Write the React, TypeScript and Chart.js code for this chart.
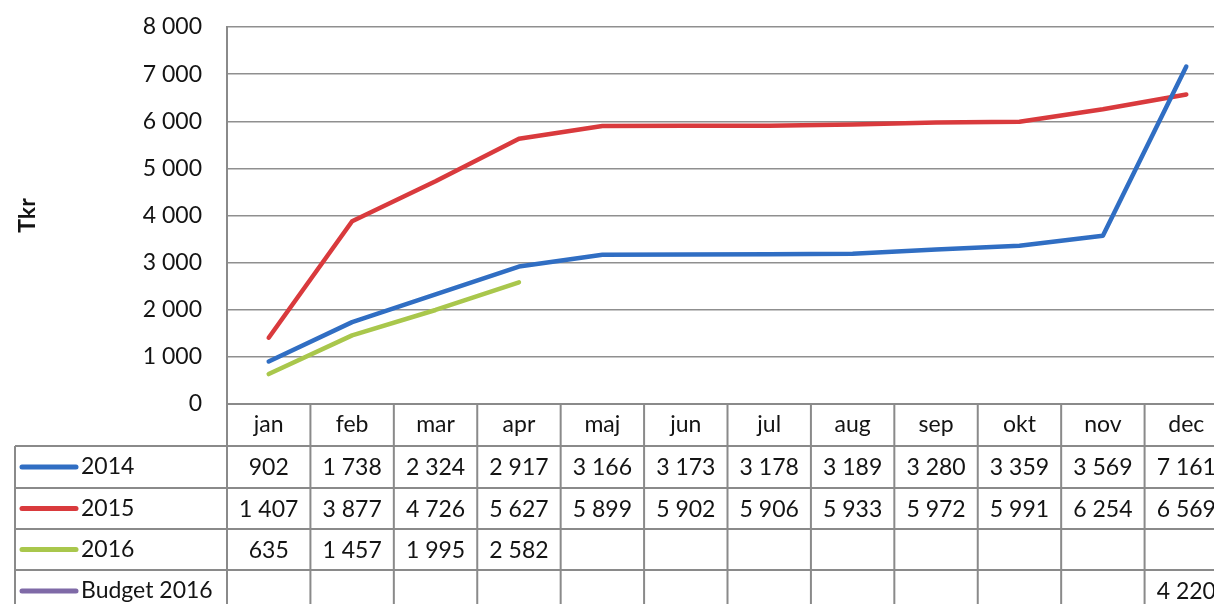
import React, { useEffect, useRef } from "react";
import { Chart, registerables } from "chart.js";

Chart.register(...registerables);

const months = ["jan", "feb", "mar", "apr", "maj", "jun", "jul", "aug", "sep", "okt", "nov", "dec"];
const s2014 = [902, 1738, 2324, 2917, 3166, 3173, 3178, 3189, 3280, 3359, 3569, 7161];
const s2015 = [1407, 3877, 4726, 5627, 5899, 5902, 5906, 5933, 5972, 5991, 6254, 6569];
const s2016 = [635, 1457, 1995, 2582, null, null, null, null, null, null, null, null];
const budget2016 = [null, null, null, null, null, null, null, null, null, null, null, 4220];
const seriesNames = ["2014", "2015", "2016", "Budget 2016"];
const seriesColors = ["#306ec3", "#d93a3d", "#a9c74c", "#7f6aa7"];
const yMin = 0;
const yMax = 8000;
const yStep = 1000;
const yTitle = "Tkr";

const FONT = "Lato, 'Open Sans', sans-serif";

function fmt(v: number): string {
  return String(v).replace(/\B(?=(\d{3})+(?!\d))/g, " ");
}

export default function App() {
  const ref = useRef<HTMLCanvasElement | null>(null);

  useEffect(() => {
    const canvas = ref.current;
    if (!canvas) return;
    const allSeries = [s2014, s2015, s2016, budget2016];

    const tablePlugin = {
      id: "dataTable",
      afterDraw(chart: any) {
        const ctx = chart.ctx;
        const xs = chart.scales.x;
        const ys = chart.scales.y;
        const area = chart.chartArea;
        const colW = (area.right - area.left) / months.length;
        const rowsY = [area.bottom, 446, 488, 529, 570, 612];
        const tableLeft = 15;
        ctx.save();
        ctx.strokeStyle = "#8a8a8a";
        ctx.lineWidth = 2;
        ctx.beginPath();
        ctx.moveTo(area.left, rowsY[0]);
        ctx.lineTo(chart.width, rowsY[0]);
        for (let r = 1; r < 5; r++) {
          ctx.moveTo(tableLeft, rowsY[r]);
          ctx.lineTo(chart.width, rowsY[r]);
        }
        ctx.moveTo(tableLeft, rowsY[1]);
        ctx.lineTo(tableLeft, chart.height);
        ctx.moveTo(area.left, area.top);
        ctx.lineTo(area.left, chart.height);
        for (let i = 0; i < months.length; i++) {
          const c = xs.getPixelForValue(i);
          const bx = c + colW / 2;
          ctx.moveTo(bx, rowsY[0]);
          ctx.lineTo(bx, chart.height);
        }
        ctx.stroke();

        ctx.fillStyle = "#141414";
        ctx.font = `23px ${FONT}`;
        ctx.textBaseline = "middle";
        // y tick labels
        ctx.textAlign = "right";
        for (let v = yMin; v <= yMax; v += yStep) {
          ctx.fillText(fmt(v), 202, ys.getPixelForValue(v));
        }
        ctx.textAlign = "center";
        for (let i = 0; i < months.length; i++) {
          const c = xs.getPixelForValue(i);
          ctx.fillText(months[i], c, (rowsY[0] + rowsY[1]) / 2);
          for (let s = 0; s < allSeries.length; s++) {
            const v = allSeries[s][i];
            if (v !== null && v !== undefined) {
              ctx.fillText(fmt(v as number), c, (rowsY[s + 1] + rowsY[s + 2]) / 2 + 1);
            }
          }
        }
        for (let s = 0; s < seriesNames.length; s++) {
          const cy = (rowsY[s + 1] + rowsY[s + 2]) / 2;
          ctx.strokeStyle = seriesColors[s];
          ctx.lineWidth = 5;
          ctx.lineCap = "round";
          ctx.beginPath();
          ctx.moveTo(22, cy);
          ctx.lineTo(76, cy);
          ctx.stroke();
          ctx.fillStyle = "#141414";
          ctx.textAlign = "left";
          ctx.fillText(seriesNames[s], 81, cy);
        }
        ctx.save();
        ctx.translate(28, (area.top + area.bottom) / 2);
        ctx.rotate(-Math.PI / 2);
        ctx.font = `bold 23px ${FONT}`;
        ctx.textAlign = "center";
        ctx.textBaseline = "middle";
        ctx.fillText(yTitle, 0, 0);
        ctx.restore();
        ctx.restore();
      },
    };

    const chart = new Chart(canvas, {
      type: "line",
      data: {
        labels: months,
        datasets: allSeries.map((d, i) => ({
          label: seriesNames[i],
          data: d,
          borderColor: seriesColors[i],
          backgroundColor: seriesColors[i],
          borderWidth: 4.5,
          pointRadius: 0,
          borderCapStyle: i === 3 ? "butt" : "round",
          borderJoinStyle: "round",
          tension: 0,
          spanGaps: false,
        })),
      },
      options: {
        animation: false,
        responsive: false,
        layout: { padding: { top: 27, bottom: 208, left: 0, right: 0 } },
        plugins: { legend: { display: false }, tooltip: { enabled: false } },
        scales: {
          x: {
            display: false,
            offset: true,
          },
          y: {
            min: yMin,
            max: yMax,
            afterFit(scale: any) {
              scale.width = 227;
            },
            ticks: {
              stepSize: yStep,
              display: false,
            },
            grid: {
              color: "#8f8f8f",
              lineWidth: 1.5,
              drawTicks: false,
            },
            border: { display: true, color: "#8a8a8a", width: 2 },
          },
        },
      },
      plugins: [tablePlugin],
    });
    return () => chart.destroy();
  }, []);

  return (
    <div style={{ position: "fixed", left: 0, top: 0, width: 1214, height: 604, overflow: "hidden", background: "#fff" }}>
      <canvas ref={ref} width={1228} height={612} style={{ display: "block", width: 1228, height: 612 }} />
    </div>
  );
}
